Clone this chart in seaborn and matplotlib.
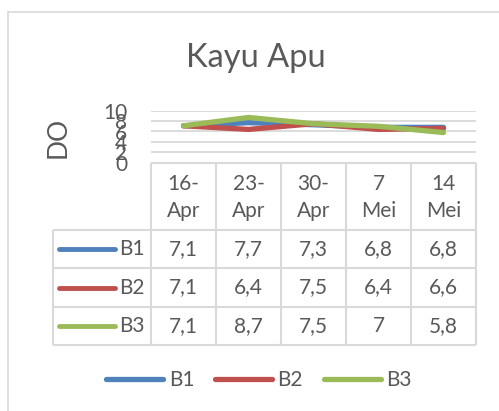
import matplotlib
matplotlib.use("Agg")
import matplotlib.pyplot as plt
import seaborn as sns
import pandas as pd
import numpy as np

# values
dates = ["16-\nApr", "23-\nApr", "30-\nApr", "7\nMei", "14\nMei"]
series = ["B1", "B2", "B3"]
b1 = [7.1, 7.7, 7.3, 6.8, 6.8]
b2 = [7.1, 6.4, 7.5, 6.4, 6.6]
b3 = [7.1, 8.7, 7.5, 7.0, 5.8]
yticks = [0, 2, 4, 6, 8, 10]
colors = ["#4F81BD", "#C0504D", "#9BBB59"]

sns.set_style("white")
plt.rcParams['font.family'] = ['Lato', 'DejaVu Sans']
txt = "#595959"
grid = "#D9D9D9"
fs = 15

W, H = 499, 411
def fx(px):
    return px / W
def fy(py):
    return 1 - py / H

rows = []
for name, vals in zip(series, [b1, b2, b3]):
    for i, v in enumerate(vals):
        rows.append({"idx": i, "value": v, "series": name})
df = pd.DataFrame(rows)

fig = plt.figure(figsize=(4.99, 4.11), dpi=100)

# outer chart frame (only top/left visible)
fig.add_artist(plt.Line2D([fx(8), fx(8)], [fy(12), 0], color=grid, lw=1.2))
fig.add_artist(plt.Line2D([fx(8), 1], [fy(12), fy(12)], color=grid, lw=1.2))

ax = fig.add_axes([fx(151), fy(162.7), fx(476) - fx(151), (162.7 - 110.7) / H])
sns.lineplot(data=df, x="idx", y="value", hue="series", palette=colors,
             linewidth=3.8, solid_capstyle="round", solid_joinstyle="round",
             ax=ax)
handles, labels = ax.get_legend_handles_labels()
ax.get_legend().remove()
ax.set_xlim(-0.5, 4.5)
ax.set_ylim(0, 10)
ax.set_yticks(yticks)
ax.set_xticks([])
ax.set_xlabel("")
ax.set_ylabel("")
ax.yaxis.grid(True, color=grid, lw=1.3)
ax.set_axisbelow(True)
for s in ax.spines.values():
    s.set_visible(False)
ax.tick_params(axis="y", length=0, pad=17, labelsize=fs, colors=txt)

fig.text(fx(58), fy(137), "DO", rotation=90, ha="center", va="center",
         fontsize=19, color=txt)
fig.text(fx(256), fy(67), "Kayu Apu", ha="center", va="baseline",
         fontsize=23.5, color=txt)

# data table under the plot
tax = fig.add_axes([fx(53), fy(345), fx(476) - fx(53), (345 - 163) / H])
lab_w = 98 / 65
left = -0.5 - lab_w
tax.set_xlim(left, 4.5)
tax.set_ylim(3, -1.75)
tax.axis("off")
tax.hlines([-1.75], -0.5, 4.5, color=grid, lw=1.5, clip_on=False)
tax.hlines([0, 1, 2, 3], left, 4.5, color=grid, lw=1.5, clip_on=False)
tax.vlines(np.arange(-0.5, 5), -1.75, 3, color=grid, lw=1.5, clip_on=False)
tax.vlines([left], 0, 3, color=grid, lw=1.5, clip_on=False)

for i, d in enumerate(dates):
    tax.text(i, -0.86, d, ha="center", va="center", fontsize=fs,
             color=txt, linespacing=1.45)
for r, (name, vals, c) in enumerate(zip(series, [b1, b2, b3], colors)):
    tax.plot([left + 6 / 65, left + 62 / 65], [r + 0.5, r + 0.5], color=c,
             lw=3.5, solid_capstyle="round")
    tax.text(left + 66 / 65, r + 0.5, name, ha="left", va="center",
             fontsize=fs, color=txt)
    for i, v in enumerate(vals):
        tax.text(i, r + 0.5, f"{v:g}".replace(".", ","), ha="center",
                 va="center", fontsize=fs, color=txt)

fig.legend(handles, labels, loc="center", bbox_to_anchor=(fx(259), fy(380)),
           ncol=3, frameon=False, fontsize=fs, labelcolor=txt,
           handlelength=2.75, handletextpad=0.25, columnspacing=1.0)

fig.savefig("out.png", dpi=100)
